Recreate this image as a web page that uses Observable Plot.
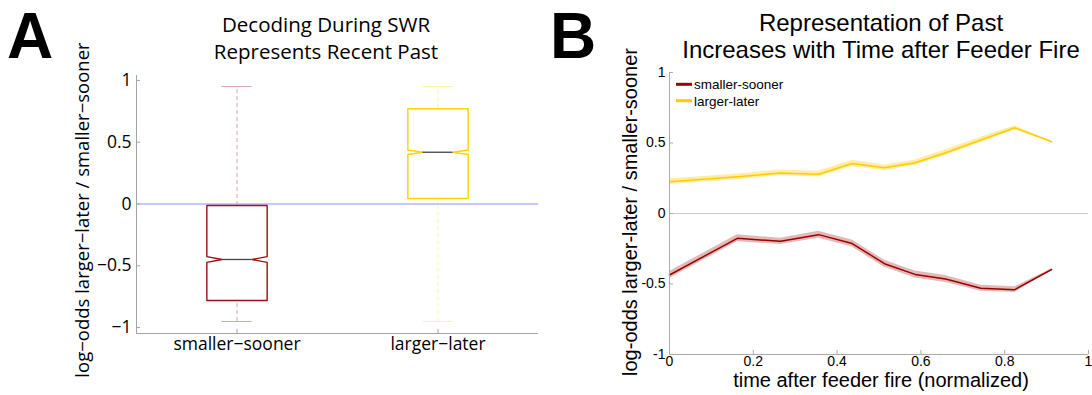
<!DOCTYPE html>
<html>
<head>
<meta charset="utf-8">
<script src="https://cdn.jsdelivr.net/npm/d3@7"></script>
<script src="https://cdn.jsdelivr.net/npm/@observablehq/plot@0.6"></script>
<style>
  html, body { margin: 0; padding: 0; background: #fff; }
  #fig { position: relative; width: 1092px; height: 395px; overflow: hidden; }
  #fig > svg { position: absolute; top: 0; }
</style>
</head>
<body>
<div id="fig"></div>
<script>
// ---- Panel A: log-odds during SWR, one notched box per reward side ----
const boxGroups = ["smaller−sooner", "larger−later"];
const boxColors = ["#9a1010", "#ffd200"];
const whiskerColors = ["#d9a6a6", "#fff1a6"];
const boxQ1 = [-0.781, 0.045];
const boxMedian = [-0.449, 0.419];
const boxQ3 = [-0.012, 0.771];
const boxLow = [-0.951, -0.951];
const boxHigh = [0.951, 0.951];
const boxNotch = [0.023, 0.018];
const yTicksA = [-1, -0.5, 0, 0.5, 1];

// ---- Panel B: log-odds vs. normalized time after feeder fire ----
const seriesNames = ["smaller-sooner", "larger-later"];
const seriesColors = ["#990000", "#ffcc00"];
const timeNorm = [0, 0.162, 0.265, 0.356, 0.436, 0.513, 0.586, 0.659, 0.743, 0.824, 0.912];
const ssMean = [-0.436, -0.176, -0.197, -0.150, -0.213, -0.356, -0.432, -0.464, -0.530, -0.540, -0.397];
const ssErr  = [0.025, 0.025, 0.022, 0.025, 0.025, 0.025, 0.025, 0.025, 0.022, 0.020, 0.004];
const llMean = [0.225, 0.260, 0.288, 0.279, 0.355, 0.324, 0.360, 0.431, 0.521, 0.608, 0.509];
const llErr  = [0.020, 0.020, 0.020, 0.020, 0.022, 0.020, 0.020, 0.022, 0.020, 0.015, 0.004];
const xTicksB = [0, 0.2, 0.4, 0.6, 0.8, 1];
const yTicksB = [-1, -0.5, 0, 0.5, 1];

const fig = document.getElementById("fig");

// ---------- Panel A ----------
const HALF = 0.15;             // half box width, x units
const yDomA = [-1.048, 1.04];
const mlA = 136, mrA = 22, mtA = 75, mbA = 62, wA = 560, hA = 395;
const frameWA = wA - mlA - mrA, frameHA = hA - mtA - mbA;

const boxes = boxGroups.map((g, i) => ({
  g, i, x: i + 1,
  q1: boxQ1[i], med: boxMedian[i], q3: boxQ3[i],
  lo: boxLow[i], hi: boxHigh[i], n: boxNotch[i]
}));

const boxMarks = boxes.flatMap(b => {
  const outline = [
    [-HALF, b.q3], [HALF, b.q3], [HALF, b.med + b.n], [HALF / 2, b.med], [HALF, b.med - b.n],
    [HALF, b.q1], [-HALF, b.q1], [-HALF, b.med - b.n], [-HALF / 2, b.med], [-HALF, b.med + b.n]
  ].map(([dx, y]) => ({x: b.x + dx, y}));
  const wc = whiskerColors[b.i];
  return [
    Plot.ruleX([b], {x: "x", y1: "q3", y2: "hi", stroke: wc, strokeDasharray: "4,3"}),
    Plot.ruleX([b], {x: "x", y1: "lo", y2: "q1", stroke: wc, strokeDasharray: "4,3"}),
    Plot.ruleY([b], {y: "hi", x1: d => d.x - HALF / 2, x2: d => d.x + HALF / 2, stroke: wc}),
    Plot.ruleY([b], {y: "lo", x1: d => d.x - HALF / 2, x2: d => d.x + HALF / 2, stroke: wc}),
    Plot.line(outline, {x: "x", y: "y", curve: "linear-closed", stroke: boxColors[b.i], strokeWidth: 1.4}),
    Plot.ruleY([b], {y: "med", x1: d => d.x - HALF / 2, x2: d => d.x + HALF / 2, stroke: "#444", strokeWidth: 1.3})
  ];
});

const minusFmt = d => (d < 0 ? "−" + Math.abs(d) : String(d));

const plotA = Plot.plot({
  width: wA, height: hA,
  marginLeft: mlA, marginRight: mrA, marginTop: mtA, marginBottom: mbA,
  style: {fontFamily: "'Open Sans', sans-serif", fontSize: "17.5px", color: "#000", background: "transparent", overflow: "visible"},
  x: {domain: [0.5, 2.5], ticks: [1, 2], tickFormat: v => boxGroups[v - 1], tickSize: 0, tickPadding: 4, label: null},
  y: {domain: yDomA, ticks: yTicksA, tickFormat: minusFmt, tickSize: 0, tickPadding: 5, label: null},
  marks: [
    Plot.ruleY([0], {stroke: "#b5b5ff", strokeWidth: 1.3}),
    ...boxMarks,
    Plot.ruleX([0.5], {stroke: "#a3a3a3"}),
    Plot.ruleY([yDomA[0]], {stroke: "#a3a3a3"}),
    Plot.tickY(yTicksA, {y: d => d, insetRight: frameWA - 4, stroke: "#a3a3a3"}),
    Plot.tickX([1, 2], {x: d => d, insetTop: frameHA - 4, stroke: "#a3a3a3"})
  ]
});
plotA.style.left = "0px";
fig.appendChild(plotA);

// ---------- Panel B ----------
const mlB = 109, mrB = 4, mtB = 72, mbB = 41, wB = 532, hB = 395;
const frameWB = wB - mlB - mrB, frameHB = hB - mtB - mbB;
const ssData = timeNorm.map((t, k) => ({t, m: ssMean[k], e: ssErr[k]}));
const llData = timeNorm.map((t, k) => ({t, m: llMean[k], e: llErr[k]}));

const plotB = Plot.plot({
  width: wB, height: hB,
  marginLeft: mlB, marginRight: mrB, marginTop: mtB, marginBottom: mbB,
  style: {fontFamily: "'Liberation Sans', Arial, sans-serif", fontSize: "14px", color: "#000", background: "transparent", overflow: "visible"},
  x: {domain: [0, 1], ticks: xTicksB, tickFormat: d => String(d), tickSize: 0, tickPadding: 2, label: null},
  y: {domain: [-1, 1], ticks: yTicksB, tickFormat: d => String(d), tickSize: 0, tickPadding: 4, label: null},
  marks: [
    Plot.ruleY([0], {stroke: "#cccccc"}),
    Plot.areaY(llData, {x: "t", y1: d => d.m - d.e, y2: d => d.m + d.e, fill: seriesColors[1], fillOpacity: 0.35}),
    Plot.areaY(ssData, {x: "t", y1: d => d.m - d.e, y2: d => d.m + d.e, fill: seriesColors[0], fillOpacity: 0.28}),
    Plot.line(llData, {x: "t", y: "m", stroke: seriesColors[1], strokeWidth: 1.5}),
    Plot.line(ssData, {x: "t", y: "m", stroke: seriesColors[0], strokeWidth: 1.5}),
    Plot.ruleX([0], {stroke: "#aaaaaa"}),
    Plot.ruleY([-1], {stroke: "#aaaaaa"}),
    Plot.tickY(yTicksB, {y: d => d, insetRight: frameWB - 4, stroke: "#aaaaaa"}),
    Plot.tickX(xTicksB, {x: d => d, insetTop: frameHB - 4, stroke: "#aaaaaa"})
  ]
});
plotB.style.left = "560px";
fig.appendChild(plotB);

// ---------- Titles, panel letters, axis titles, legend ----------
const ov = d3.select(fig).append("svg")
  .attr("width", 1092).attr("height", 395)
  .style("left", "0px").style("pointer-events", "none");

const bold = "'Liberation Sans', Arial, sans-serif";
ov.append("text").attr("x", 7).attr("y", 58).text("A")
  .attr("font-family", bold).attr("font-weight", "bold").attr("font-size", 64);
ov.append("text").attr("x", 550).attr("y", 58).text("B")
  .attr("font-family", bold).attr("font-weight", "bold").attr("font-size", 64);

const fA = "'Open Sans', sans-serif";
[["Decoding During SWR", 31.5], ["Represents Recent Past", 58.5]].forEach(([s, y]) =>
  ov.append("text").attr("x", 326).attr("y", y).attr("text-anchor", "middle")
    .attr("font-family", fA).attr("font-size", 20.5).text(s));
ov.append("text").attr("transform", "translate(89,210) rotate(-90)").attr("text-anchor", "middle")
  .attr("font-family", fA).attr("font-size", 18.5).text("log−odds larger−later / smaller−sooner");

const fB = "'Liberation Sans', Arial, sans-serif";
[["Representation of Past", 30.5], ["Increases with Time after Feeder Fire", 58]].forEach(([s, y]) =>
  ov.append("text").attr("x", 881).attr("y", y).attr("text-anchor", "middle")
    .attr("font-family", fB).attr("font-size", 24).text(s));
ov.append("text").attr("transform", "translate(637,212) rotate(-90)").attr("text-anchor", "middle")
  .attr("font-family", fB).attr("font-size", 20).text("log-odds larger-later / smaller-sooner");
ov.append("text").attr("x", 881).attr("y", 387).attr("text-anchor", "middle")
  .attr("font-family", fB).attr("font-size", 20).text("time after feeder fire (normalized)");

// legend
seriesNames.forEach((name, k) => {
  const y = 84.3 + k * 16.4;
  ov.append("line").attr("x1", 676).attr("x2", 692).attr("y1", y).attr("y2", y)
    .attr("stroke", seriesColors[k]).attr("stroke-width", 3);
  ov.append("text").attr("x", 694).attr("y", y + 4.8)
    .attr("font-family", fB).attr("font-size", 13.5).text(name);
});
</script>
</body>
</html>
